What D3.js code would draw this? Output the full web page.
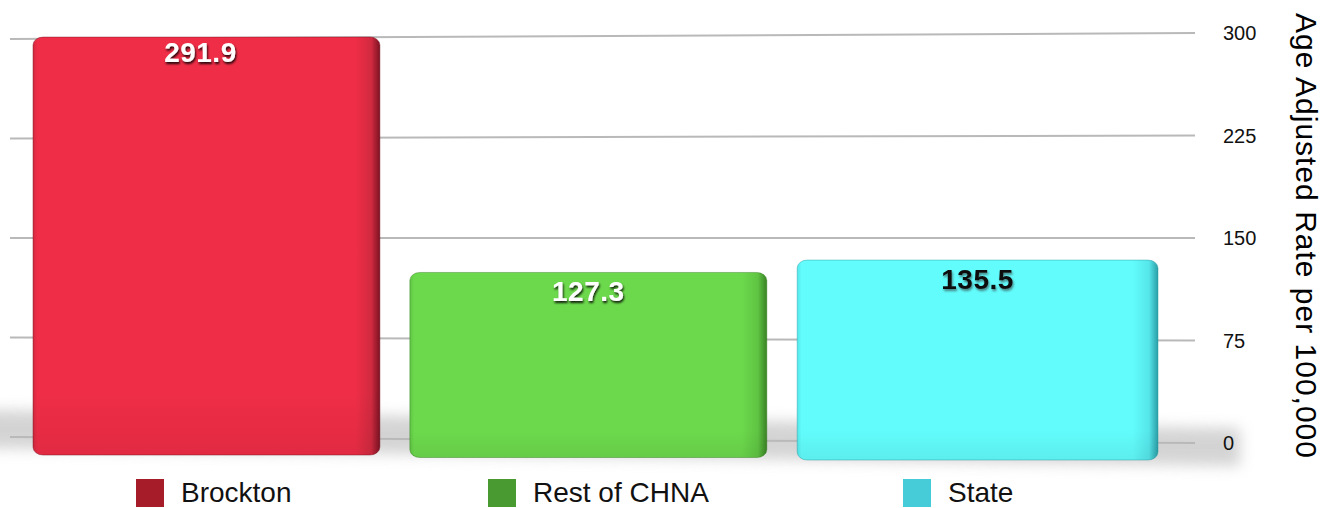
<!DOCTYPE html>
<html>
<head>
<meta charset="utf-8">
<script src="https://cdn.jsdelivr.net/npm/d3@7"></script>
<style>
  html, body { margin: 0; padding: 0; background: #fff; }
  svg { display: block; }
</style>
</head>
<body>
<svg id="chart" width="1330" height="508"></svg>
<script>
// ---- data ----
const categories = ["Brockton", "Rest of CHNA", "State"];
const values = [291.9, 127.3, 135.5];
const tickValues = [0, 75, 150, 225, 300];
const axisTitle = "Age Adjusted Rate per 100,000";

// ---- styles ----
const frontColors  = ["#ef2d46", "#6cd94c", "#62fcfc"];
const edgeColors   = ["#d12a40", "#5fc443", "#55e6ea"];
const sideColors   = ["#7c1222", "#3a8226", "#2a9ea6"];
const legendColors = ["#a61c28", "#4a9a32", "#46ccd8"];
const labelColors  = ["#ffffff", "#ffffff", "#111111"];

const svg = d3.select("#chart");
const defs = svg.append("defs");

// Back wall: gridlines recede slightly (perspective), so use a scale per end
const gridX0 = 10, gridX1 = 1195;
const yBackL = d3.scaleLinear().domain([0, 300]).range([437, 39]);
const yBackR = d3.scaleLinear().domain([0, 300]).range([443, 33]);

// Front plane: bars are closer to the viewer than the wall
const barX0 = 33, barX1 = 1158;
const yFrontL = d3.scaleLinear().domain([0, 300]).range([453.9, 453.9 - 300 * 1.422]);
const yFrontR = d3.scaleLinear().domain([0, 300]).range([461.2, 461.2 - 300 * 1.486]);
const yFront = (v, x) => {
  const t = (x - barX0) / (barX1 - barX0);
  return d3.interpolateNumber(yFrontL(v), yFrontR(v))(t);
};

// Horizontal band positions, warped a little for the perspective
const band = d3.scaleBand().domain(categories).range([0, 1125]).paddingInner(30 / 385).paddingOuter(0);
const warp = d3.scalePow().exponent(1.02).domain([0, 1125]).range([barX0, barX1]);

const bars = categories.map((c, i) => {
  const x0 = warp(band(c));
  const x1 = warp(band(c) + band.bandwidth());
  const cx = (x0 + x1) / 2;
  return { c, i, v: values[i], x0, x1, cx, yTop: yFront(values[i], cx), yBot: yFront(0, cx) };
});

// ---- filters and gradients ----
const blur = defs.append("filter").attr("id", "floorBlur")
  .attr("x", "-10%").attr("y", "-100%").attr("width", "120%").attr("height", "300%");
blur.append("feGaussianBlur").attr("stdDeviation", 7);

const lightShadow = defs.append("filter").attr("id", "txtShadowDark")
  .attr("x", "-20%").attr("y", "-30%").attr("width", "140%").attr("height", "170%");
lightShadow.append("feDropShadow").attr("dx", 1).attr("dy", 2).attr("stdDeviation", 1.1)
  .attr("flood-color", "#000").attr("flood-opacity", 0.85);

const darkShadow = defs.append("filter").attr("id", "txtShadowLight")
  .attr("x", "-20%").attr("y", "-30%").attr("width", "140%").attr("height", "170%");
darkShadow.append("feDropShadow").attr("dx", 1).attr("dy", 2).attr("stdDeviation", 1.2)
  .attr("flood-color", "#333").attr("flood-opacity", 0.6);

bars.forEach(b => {
  const g = defs.append("linearGradient").attr("id", "barGrad" + b.i)
    .attr("x1", 0).attr("x2", 1).attr("y1", 0).attr("y2", 0);
  g.append("stop").attr("offset", 0).attr("stop-color", edgeColors[b.i]);
  g.append("stop").attr("offset", 0.012).attr("stop-color", frontColors[b.i]);
  g.append("stop").attr("offset", 0.93).attr("stop-color", frontColors[b.i]);
  g.append("stop").attr("offset", 0.975).attr("stop-color", edgeColors[b.i]);
  g.append("stop").attr("offset", 1).attr("stop-color", sideColors[b.i]);
});

const vg = defs.append("linearGradient").attr("id", "vShade")
  .attr("x1", 0).attr("x2", 0).attr("y1", 0).attr("y2", 1);
vg.append("stop").attr("offset", 0).attr("stop-color", "#000").attr("stop-opacity", 0.0);
vg.append("stop").attr("offset", 0.85).attr("stop-color", "#000").attr("stop-opacity", 0.0);
vg.append("stop").attr("offset", 1).attr("stop-color", "#000").attr("stop-opacity", 0.06);

// ---- floor shadow ----
svg.append("path")
  .attr("d", d3.line()([[-20, 410], [1240, 428], [1240, 466], [-20, 448]]))
  .attr("fill", "#bdbdbd")
  .attr("opacity", 0.65)
  .attr("filter", "url(#floorBlur)");

// ---- gridlines on the back wall ----
svg.append("g").selectAll("line").data(tickValues).join("line")
  .attr("x1", gridX0).attr("x2", gridX1)
  .attr("y1", d => yBackL(d)).attr("y2", d => yBackR(d))
  .attr("stroke", "#b9b9b9").attr("stroke-width", 2);

// ---- tick labels ----
svg.append("g").selectAll("text").data(tickValues).join("text")
  .attr("x", 1223).attr("y", d => yBackR(d)).attr("dy", "0.36em")
  .attr("font-family", "'Liberation Sans', Arial, sans-serif")
  .attr("font-size", 20).attr("fill", "#111")
  .text(d => d);

// ---- axis title ----
svg.append("text")
  .attr("transform", "translate(1296,13) rotate(90)")
  .attr("font-family", "'Liberation Sans', Arial, sans-serif")
  .attr("font-size", 30).attr("letter-spacing", 1).attr("fill", "#000")
  .text(axisTitle);

// ---- bars ----
const bg = svg.append("g").selectAll("g").data(bars).join("g");
bg.append("rect")
  .attr("x", d => d.x0).attr("y", d => d.yTop)
  .attr("width", d => d.x1 - d.x0).attr("height", d => d.yBot - d.yTop)
  .attr("rx", 10).attr("ry", 8)
  .attr("fill", d => `url(#barGrad${d.i})`)
  .attr("stroke", d => sideColors[d.i]).attr("stroke-opacity", 0.45).attr("stroke-width", 1);
bg.append("rect")
  .attr("x", d => d.x0).attr("y", d => d.yTop)
  .attr("width", d => d.x1 - d.x0).attr("height", d => d.yBot - d.yTop)
  .attr("rx", 10).attr("ry", 8)
  .attr("fill", "url(#vShade)");

// ---- value labels ----
bg.append("text")
  .attr("x", d => d.cx - (d.i === 0 ? 6 : 0))
  .attr("y", d => d.yTop + (d.i === 0 ? 25 : 29))
  .attr("text-anchor", "middle")
  .attr("font-family", "'Liberation Sans', Arial, sans-serif")
  .attr("font-weight", "bold").attr("font-size", 28).attr("letter-spacing", 0.5)
  .attr("fill", d => labelColors[d.i])
  .attr("filter", d => labelColors[d.i] === "#ffffff" ? "url(#txtShadowDark)" : "url(#txtShadowLight)")
  .text(d => d3.format(".1f")(d.v));

// ---- legend ----
const legendX = [136, 488, 903];
const lg = svg.append("g").selectAll("g").data(categories).join("g")
  .attr("transform", (d, i) => `translate(${legendX[i]},479)`);
lg.append("rect").attr("width", 28).attr("height", 28)
  .attr("fill", (d, i) => legendColors[i]);
lg.append("text").attr("x", 45).attr("y", 22.5)
  .attr("font-family", "'Liberation Sans', Arial, sans-serif")
  .attr("font-size", 28).attr("fill", "#111")
  .text(d => d);
</script>
</body>
</html>
